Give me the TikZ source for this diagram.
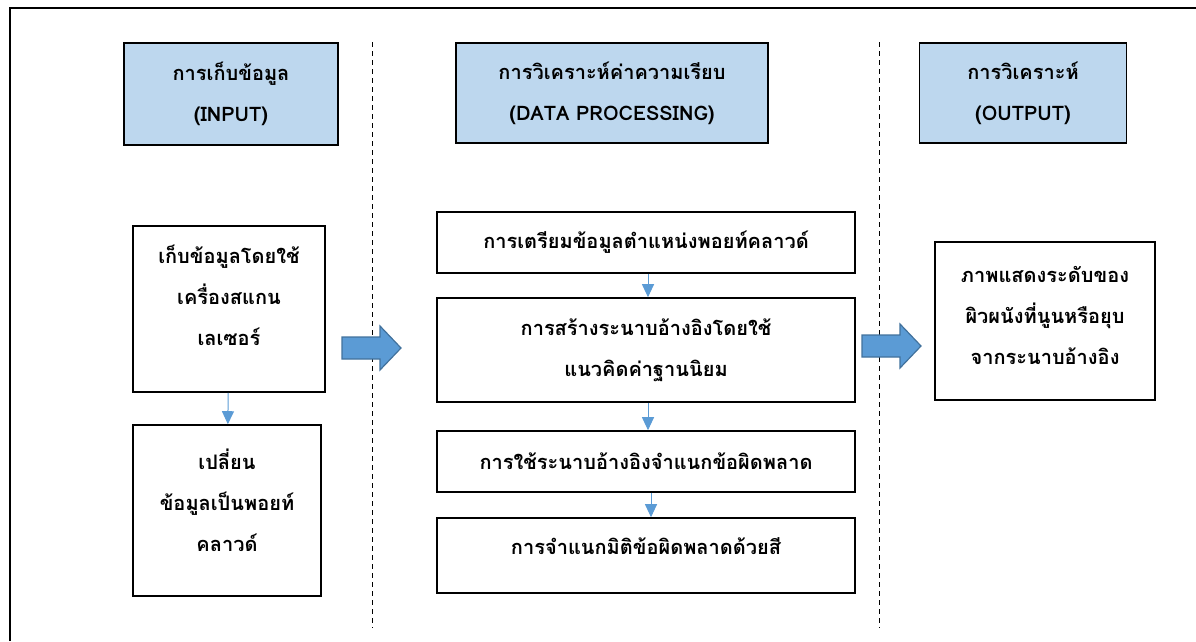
\documentclass[tikz,border=0pt]{standalone}
\usepackage{fontspec}
\newfontfamily\thaifont[Script=Thai]{Loma}
\usetikzlibrary{arrows.meta}
\definecolor{hdrblue}{HTML}{BDD7EE}
\definecolor{arrblue}{HTML}{5B9BD5}
\definecolor{arredge}{HTML}{41719C}
\tikzset{
  x=1pt, y=-1pt,
  box/.style={draw=black, line width=1.6pt, align=center, inner sep=0pt,
    font=\thaifont\bfseries\fontsize{20}{41}\selectfont},
  hdr/.style={box, fill=hdrblue},
  divider/.style={dashed, line width=0.9pt, dash pattern=on 5pt off 4pt},
  flow/.style={draw=arrblue, line width=1pt, -{Triangle[width=12pt,length=13pt]}},
  bigarrow/.style={fill=arrblue, draw=arredge, line width=1.2pt, line join=miter}
}
\begin{document}
\begin{tikzpicture}
\useasboundingbox (0,0) rectangle (1196,641);
% outer frame (partially visible)
\draw[line width=2.6pt] (10,641) -- (10,8) -- (1196,8);
% dividers
\draw[divider] (372,42) -- (372,628);
\draw[divider] (879,42) -- (879,628);
% headers
\node[hdr, minimum width=214, minimum height=102] (h1) at (231,94) {การเก็บข้อมูล\\(INPUT)};
\node[hdr, minimum width=312, minimum height=100] (h2) at (612,93) {การวิเคราะห์ค่าความเรียบ\\(DATA PROCESSING)};
\node[hdr, minimum width=207, minimum height=100] (h3) at (1023,93) {การวิเคราะห์\\(OUTPUT)};
% left column
\node[box, minimum width=192, minimum height=166, text depth=28pt] (a) at (229,309) {เก็บข้อมูลโดยใช้\\เครื่องสแกน\\เลเซอร์};
\node[box, minimum width=188, minimum height=171, text depth=20pt] (b) at (227,510.5) {เปลี่ยน\\ข้อมูลเป็นพอยท์\\คลาวด์};
% middle column
\node[box, minimum width=418, minimum height=61] (c1) at (646,242.5) {การเตรียมข้อมูลตำแหน่งพอยท์คลาวด์};
\node[box, minimum width=418, minimum height=104] (c2) at (646,350) {การสร้างระนาบอ้างอิงโดยใช้\\แนวคิดค่าฐานนิยม};
\node[box, minimum width=418, minimum height=61] (c3) at (646,461.5) {การใช้ระนาบอ้างอิงจำแนกข้อผิดพลาด};
\node[box, minimum width=418, minimum height=75, text depth=18pt] (c4) at (646,555.5) {การจำแนกมิติข้อผิดพลาดด้วยสี};
% right column
\node[box, minimum width=220, minimum height=158, text depth=12pt] (d) at (1045,321) {ภาพแสดงระดับของ\\ผิวผนังที่นูนหรือยุบ\\จากระนาบอ้างอิง};
% thin flow arrows
\draw[flow] (a) -- (b);
\draw[flow] ([xshift=2pt]c1.south) -- ([xshift=2pt]c2.north);
\draw[flow] ([xshift=2pt]c2.south) -- ([xshift=2pt]c3.north);
\draw[flow] ([xshift=5pt]c3.south) -- ([xshift=5pt]c4.north);
% block arrows
\coordinate (p1) at (342,348);
\draw[bigarrow] (p1) ++(0,-11) -- ++(38,0) -- ++(0,-11) -- ++(21,22) -- ++(-21,22) -- ++(0,-11) -- ++(-38,0) -- cycle;
\coordinate (p2) at (862,346);
\draw[bigarrow] (p2) ++(0,-11) -- ++(38,0) -- ++(0,-11) -- ++(21,22) -- ++(-21,22) -- ++(0,-11) -- ++(-38,0) -- cycle;
\end{tikzpicture}
\end{document}
